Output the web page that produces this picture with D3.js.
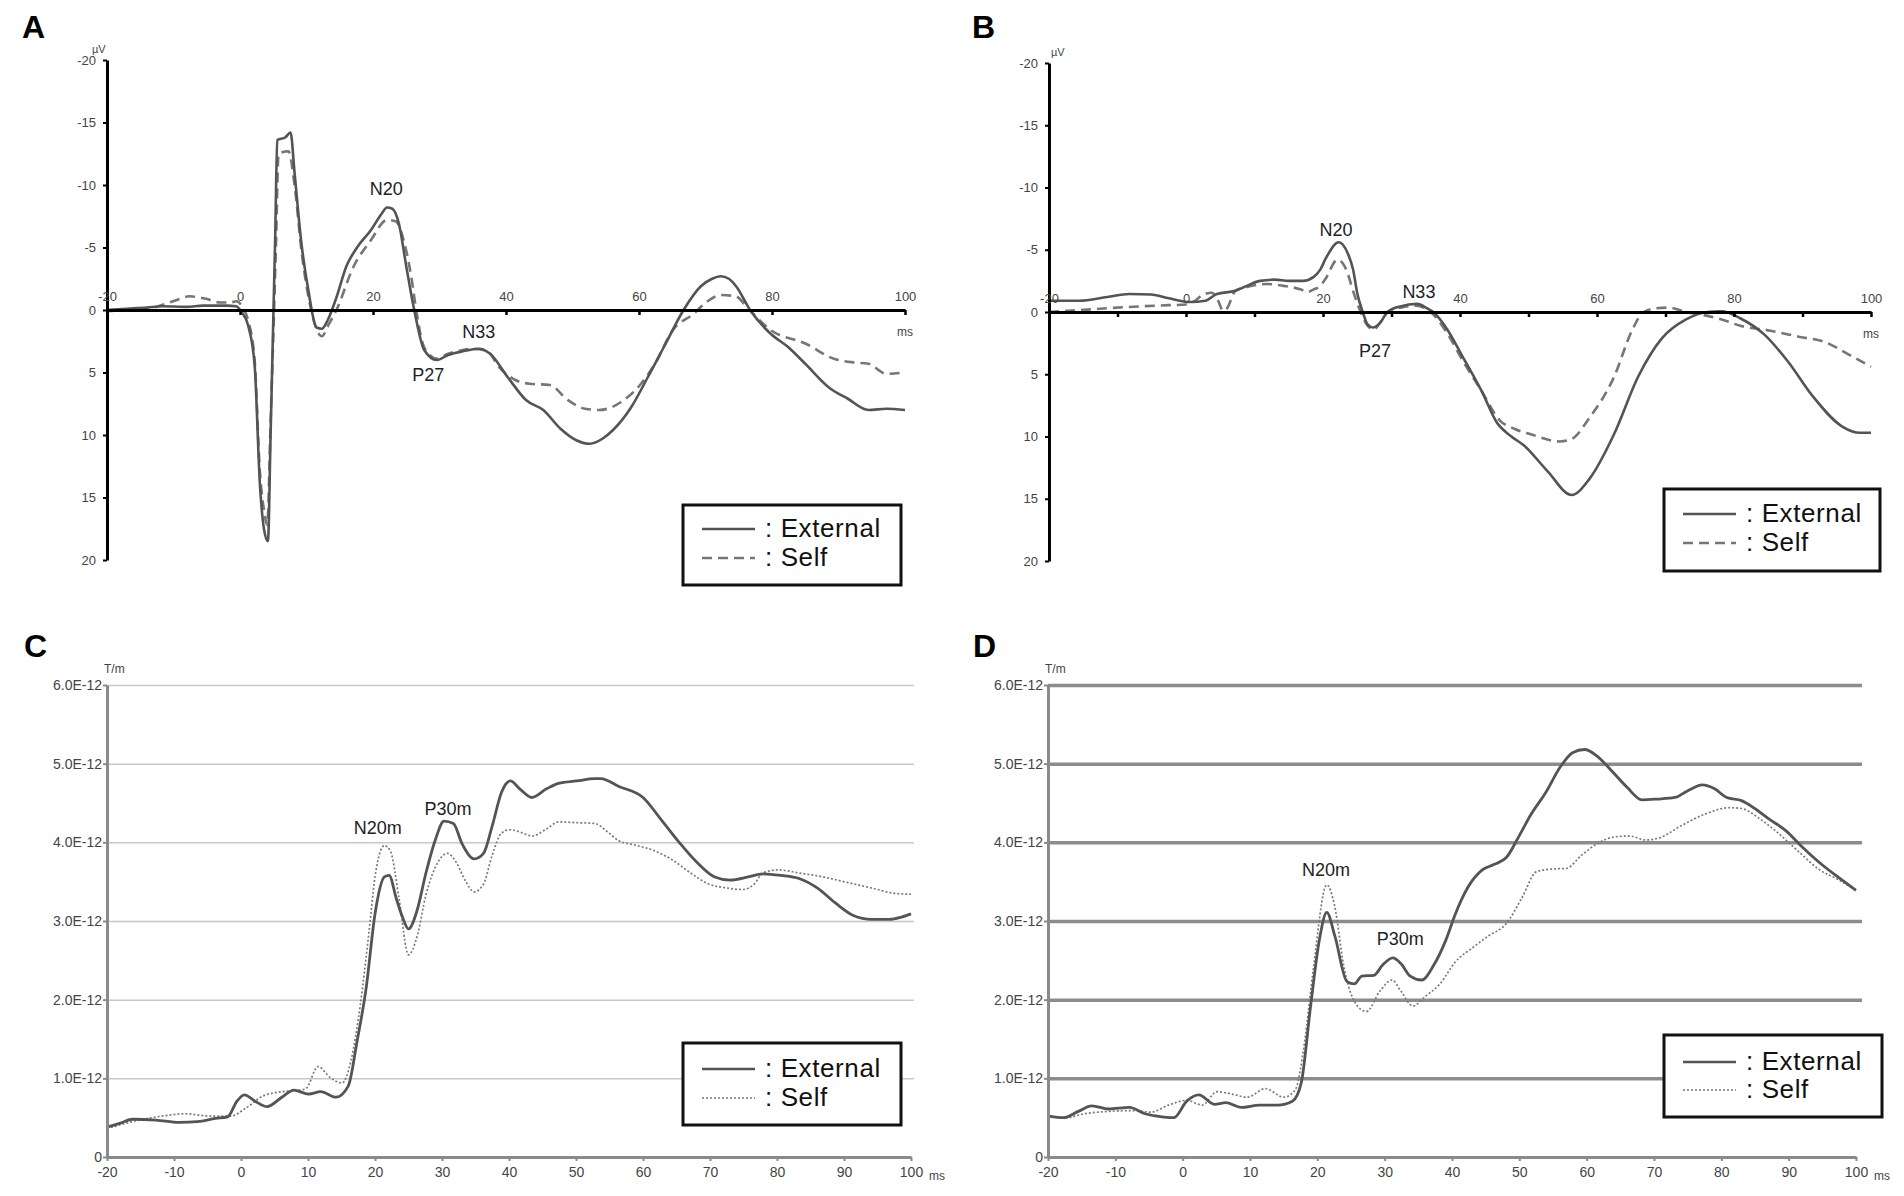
<!DOCTYPE html>
<html>
<head>
<meta charset="utf-8">
<script src="https://cdn.jsdelivr.net/npm/d3@7"></script>
<style>
body { margin: 0; background: #fff; }
text { font-family: "Liberation Sans", Arial, sans-serif; }
</style>
</head>
<body>
<svg id="chart" width="1904" height="1196"></svg>
<script>
// ---- data: [ms, value] pairs ----
const uvTicks = [-20, -15, -10, -5, 0, 5, 10, 15, 20];
const tmTicks = [0, 1, 2, 3, 4, 5, 6];          // x 1E-12 T/m
const msTicksA = [-20, 0, 20, 40, 60, 80, 100];
const msTicksB = [-20, -10, 0, 10, 20, 30, 40, 50, 60, 70, 80, 90, 100];
const msLabelsAB = [-20, 0, 20, 40, 60, 80, 100];
const msTicksCD = [-20, -10, 0, 10, 20, 30, 40, 50, 60, 70, 80, 90, 100];
const seriesNames = [": External", ": Self"];

const extA = [[-20, 0.0], [-17, -0.1], [-14, -0.2], [-11.7, -0.3], [-8, -0.25], [-5.6, -0.35], [-2, -0.35],
    [-0.6, -0.3], [0.3, 0.2], [1.2, 1.2], [2.2, 4.4], [3.0, 14], [3.6, 17.5], [4.2, 18.5], [4.6, 10],
    [5.3, -6], [5.6, -13.6], [6.8, -13.8], [7.6, -14.2], [8.2, -11], [9.2, -5.5], [10.3, -1.5], [11.5, 1.4],
    [12.3, 1.5], [13.2, 0.8], [14.5, -1], [16, -3.5], [17.6, -5], [19.7, -6.4], [21.3, -7.7], [22.1, -8.2],
    [22.9, -8.1], [23.9, -6.9], [25, -3.5], [26.2, 0], [27.7, 3.2], [29.6, 4.0], [31.3, 3.6], [33.5, 3.3],
    [36, 3.1], [37.6, 3.5], [40.3, 5.4], [43, 7.2], [45.6, 8.0], [48.2, 9.5], [50.5, 10.4], [52.6, 10.7],
    [54.5, 10.3], [56.1, 9.6], [58.8, 7.8], [61.3, 5.4], [64, 2.7], [66.7, 0], [69.3, -1.9], [71, -2.5],
    [72.3, -2.7], [73.5, -2.5], [74.6, -1.9], [76.7, 0], [79.8, 1.9], [82.5, 3.0], [85, 4.3], [88.8, 6.3],
    [91.4, 7.1], [94.5, 8.0], [97.2, 7.9], [100, 8.0]];
const selfA = [[-20, 0.1], [-17.5, 0], [-15.7, -0.1], [-13, -0.2], [-11.7, -0.4], [-9.5, -0.8], [-7.6, -1.1],
    [-6, -1.0], [-5.1, -0.9], [-3, -0.6], [-1.5, -0.6], [-0.5, -0.7], [0.3, -0.3], [1.2, 0.8], [2.2, 4],
    [3.0, 13], [3.6, 16], [4.1, 17.2], [4.6, 9], [5.4, -5], [5.8, -12.5], [7.3, -12.7], [8.2, -10],
    [9.3, -4.5], [10.5, -0.5], [11.5, 1.5], [12.3, 2.1], [13.3, 1.2], [14.5, 0], [17.1, -3.5], [19.7, -5.6],
    [22.1, -7.2], [23.4, -7.1], [24.7, -5.4], [25.8, -2.5], [26.5, 0], [27.7, 3.0], [29.6, 3.9], [31.3, 3.5],
    [33.5, 3.2], [35.2, 3.1], [37.2, 3.3], [39, 4.6], [41.4, 5.6], [43.5, 5.9], [46.6, 6.0], [49.3, 7.2],
    [51.9, 7.9], [54.0, 8.0], [57.2, 7.4], [60.3, 5.9], [62.4, 4.3], [65.1, 1.6], [68.2, 0.3], [70.3, -0.7],
    [72.4, -1.2], [74.5, -1.1], [76.6, 0], [79.8, 1.6], [85.1, 2.7], [89.3, 3.9], [92.4, 4.2], [94.5, 4.3],
    [97.2, 5.1], [100, 5.0]];

const extB = [[-20, -0.9], [-15.6, -0.9], [-11.5, -1.2], [-8.3, -1.45], [-5.1, -1.4], [-2.5, -1.1], [0.6, -0.8],
    [2.8, -0.9], [4.5, -1.45], [7.2, -1.7], [8.9, -2.1], [10.8, -2.5], [13, -2.6], [15, -2.5], [17.1, -2.5],
    [18.6, -2.8], [19.6, -3.4], [20.4, -4.3], [22.3, -5.6], [23.7, -4.6], [24.4, -3.4], [25, -1.5], [25.8, 0],
    [26.5, 1.0], [27.3, 1.25], [28.3, 0.9], [29.4, 0], [31.3, -0.45], [33.7, -0.65], [35.2, -0.3], [36.1, 0],
    [37.9, 1.2], [40.5, 3.7], [43.2, 6.4], [45.4, 8.9], [47.5, 10], [49.3, 10.7], [52.8, 12.8], [56.3, 14.7],
    [58.9, 13.4], [62.5, 9.8], [66, 5.2], [69.5, 2.1], [73, 0.6], [76.1, 0], [78.2, -0.06], [80.9, 0.5],
    [84.4, 1.8], [87.9, 4.0], [91.4, 6.7], [95.8, 9.2], [98.4, 9.7], [100, 9.7]];
const selfB = [[-20, 0], [-15.6, -0.15], [-11.5, -0.3], [-6.8, -0.45], [-2.5, -0.55], [0.1, -0.6], [1.3, -0.9],
    [2.5, -1.4], [3.8, -1.55], [4.7, -0.9], [5.4, -0.1], [6.0, -0.3], [7.2, -1.7], [8.9, -2.0], [11.8, -2.25],
    [14.2, -2.1], [16.8, -1.8], [17.7, -1.6], [18.6, -1.8], [19.6, -2.1], [20.4, -2.7], [22.1, -4.2],
    [23.4, -3.4], [24.5, -1.5], [25.5, 0], [26.5, 1.1], [27.4, 1.4], [28.4, 0.8], [29.5, 0], [31.8, -0.4],
    [33.5, -0.5], [35.7, 0], [37.9, 1.5], [40.5, 4.0], [43.2, 6.4], [45.8, 8.7], [48, 9.4], [50.2, 9.8],
    [54.6, 10.4], [56.3, 10.2], [58.9, 8.5], [62.5, 5.2], [65.1, 1.5], [66.8, 0], [68.6, -0.3], [70.4, -0.35],
    [73, 0], [75.6, 0.25], [78.2, 0.6], [80.9, 1.1], [85.3, 1.5], [89.6, 2.0], [93.2, 2.4], [96.7, 3.4],
    [100, 4.4]];

const extC = [[-20, 0.38], [-18, 0.43], [-16.2, 0.48], [-12.7, 0.47], [-9.2, 0.44], [-6.5, 0.45], [-3.8, 0.49],
    [-2.0, 0.51], [-0.6, 0.71], [0.5, 0.79], [2.1, 0.71], [3.9, 0.64], [6.1, 0.76], [7.9, 0.85], [10.1, 0.80],
    [11.9, 0.83], [14.2, 0.76], [16, 0.90], [17.3, 1.46], [18.7, 2.16], [20, 3.09], [21.4, 3.56], [22.1, 3.58],
    [23.2, 3.28], [24.1, 3.05], [25, 2.90], [26.3, 3.14], [27.6, 3.61], [29, 4.03], [30.3, 4.27], [31.7, 4.24],
    [33, 3.98], [34.8, 3.79], [36.2, 3.86], [37.5, 4.21], [38.9, 4.64], [40.2, 4.78], [41.6, 4.68], [43.4, 4.57],
    [45.6, 4.68], [47.4, 4.75], [50.1, 4.78], [52.8, 4.81], [53.7, 4.81], [56.4, 4.71], [60, 4.57], [62.7, 4.29],
    [65.4, 4.00], [68, 3.75], [70.7, 3.56], [73, 3.52], [75.7, 3.56], [77.9, 3.60], [80.6, 3.58], [83.3, 3.54],
    [86, 3.42], [88.7, 3.23], [91.4, 3.07], [94.1, 3.02], [96.8, 3.02], [98.6, 3.05], [100, 3.09]];
const selfC = [[-20, 0.36], [-16.2, 0.45], [-11.8, 0.52], [-8.3, 0.55], [-4.7, 0.52], [-1.5, 0.52], [0.7, 0.62],
    [3.4, 0.78], [6.1, 0.83], [8.8, 0.85], [9.7, 0.87], [11.5, 1.15], [13.3, 1.01], [15.1, 0.94], [16.4, 1.22],
    [17.8, 1.93], [19.1, 2.86], [20, 3.56], [21.4, 3.96], [22.3, 3.89], [23.6, 3.28], [25, 2.57], [26.3, 2.81],
    [27.6, 3.33], [29.4, 3.75], [30.8, 3.86], [32.1, 3.75], [33.5, 3.51], [34.8, 3.37], [36.2, 3.47],
    [37.5, 3.84], [38.9, 4.12], [40.2, 4.16], [42, 4.12], [43.4, 4.08], [45.6, 4.17], [47.4, 4.26], [50.1, 4.25],
    [52.8, 4.24], [54.6, 4.14], [56.4, 4.02], [59.1, 3.96], [61.8, 3.89], [64.5, 3.77], [67.1, 3.61],
    [69.8, 3.47], [72.5, 3.42], [74.8, 3.40], [76.6, 3.47], [77.9, 3.61], [80.2, 3.65], [83.3, 3.61],
    [86.9, 3.56], [90.5, 3.49], [94.1, 3.42], [97.7, 3.35], [100, 3.34]];

const extD = [[-19.8, 0.52], [-17.7, 0.50], [-15.5, 0.58], [-13.5, 0.65], [-11, 0.61], [-7.9, 0.63], [-5.6, 0.55],
    [-3.8, 0.52], [-1.3, 0.50], [0.6, 0.71], [2.4, 0.79], [4.7, 0.67], [6.4, 0.69], [8.7, 0.63], [11.4, 0.66],
    [14.1, 0.66], [16.3, 0.71], [17.6, 0.94], [19, 1.92], [20.3, 2.76], [21.4, 3.11], [22.6, 2.81], [24.4, 2.23],
    [25.5, 2.20], [26.6, 2.30], [28.4, 2.31], [29.7, 2.44], [31.2, 2.53], [32.4, 2.46], [33.8, 2.30],
    [35.5, 2.25], [37.3, 2.44], [39.1, 2.76], [40.5, 3.09], [42.3, 3.42], [44.5, 3.65], [46.3, 3.72],
    [48.1, 3.81], [49.9, 4.07], [51.7, 4.35], [53.9, 4.63], [56.1, 4.96], [57.9, 5.14], [59.7, 5.18],
    [61.5, 5.10], [63.7, 4.91], [66, 4.70], [68.2, 4.54], [70.5, 4.55], [73.1, 4.57], [74.9, 4.65],
    [77.2, 4.73], [79, 4.68], [80.8, 4.57], [83, 4.53], [84.8, 4.44], [87, 4.30], [89.7, 4.14], [91.9, 3.95],
    [94.6, 3.74], [97.3, 3.56], [100, 3.39]];
const selfD = [[-19.8, 0.51], [-17.3, 0.50], [-14.6, 0.55], [-11, 0.58], [-7.4, 0.59], [-4.7, 0.57], [-2.1, 0.66],
    [0.6, 0.72], [2.9, 0.66], [5.1, 0.83], [7.3, 0.80], [9.6, 0.76], [12.3, 0.87], [15, 0.76], [16.7, 0.85],
    [18.1, 1.46], [19.4, 2.39], [21.4, 3.46], [22.6, 3.18], [23.9, 2.44], [25.7, 1.95], [27.3, 1.85],
    [29.3, 2.11], [31.1, 2.25], [32.4, 2.11], [34.2, 1.92], [36, 2.04], [38.2, 2.20], [40.5, 2.48],
    [43.2, 2.67], [45.4, 2.81], [48.1, 2.97], [50.3, 3.28], [52.6, 3.63], [54.8, 3.66], [57, 3.67],
    [59.3, 3.84], [61.5, 3.98], [64.2, 4.07], [66.4, 4.08], [68.7, 4.03], [70.9, 4.06], [74, 4.21],
    [77.6, 4.36], [81.2, 4.44], [83, 4.43], [85.7, 4.30], [88.4, 4.12], [91.5, 3.88], [94.6, 3.65],
    [97.3, 3.53], [100, 3.39]];

// component labels: [text, ms, value at text baseline]
const peaksA = [["N20", 22.0, -9.2], ["P27", 28.3, 5.7], ["N33", 35.9, 2.2]];
const peaksB = [["N20", 21.9, -6.1], ["P27", 27.6, 3.6], ["N33", 34.0, -1.1]];
const peaksC = [["N20m", 20.4, 4.1], ["P30m", 30.9, 4.35]];
const peaksD = [["N20m", 21.3, 3.57], ["P30m", 32.3, 2.69]];

// ---- drawing ----
const svg = d3.select("#chart");
const extColor = "#545454";
const selfColor = "#767676";
const tickFont = "'Liberation Sans', Arial, sans-serif";

function drawLegend(box, selfDash, selfWidth) {
    let lg = svg.append("g");
    lg.append("rect")
        .attr("x", box.x).attr("y", box.y)
        .attr("width", box.w).attr("height", box.h)
        .attr("fill", "#fff").attr("stroke", "#111").attr("stroke-width", 3);
    let dashes = [null, selfDash];
    let widths = [2.6, selfWidth];
    let colors = [extColor, selfColor];
    seriesNames.forEach(function (name, i) {
        let ly = box.y + box.row0 + i * box.rowGap;
        lg.append("line")
            .attr("x1", box.x + 19).attr("x2", box.x + 72)
            .attr("y1", ly).attr("y2", ly)
            .attr("stroke", colors[i]).attr("stroke-width", widths[i])
            .attr("stroke-dasharray", dashes[i]);
        lg.append("text")
            .attr("x", box.x + 82).attr("y", ly + 8)
            .attr("font-family", "'Noto Sans CJK JP', 'Noto Sans', sans-serif")
            .attr("font-size", 26).attr("letter-spacing", 0.6).attr("fill", "#111")
            .text(name);
    });
}

function drawPeaks(peaks, x, y, size) {
    svg.append("g").selectAll("text")
        .data(peaks)
        .join("text")
        .attr("x", d => x(d[1]))
        .attr("y", d => y(d[2]))
        .attr("text-anchor", "middle")
        .attr("font-size", size)
        .attr("fill", "#222")
        .text(d => d[0]);
}

function drawErpPanel(cfg, ext, self, peaks) {
    let x = d3.scaleLinear().domain([-20, 100]).range([cfg.left, cfg.right]);
    let y = d3.scaleLinear().domain([-20, 20]).range([cfg.top, cfg.bottom]);

    svg.append("text")
        .attr("x", cfg.letterX).attr("y", 38)
        .attr("font-size", 32).attr("font-weight", "bold")
        .text(cfg.letter);

    let line = d3.line()
        .x(d => x(d[0]))
        .y(d => y(d[1]))
        .curve(d3.curveMonotoneX);

    svg.append("path")
        .datum(self)
        .attr("fill", "none")
        .attr("stroke", selfColor)
        .attr("stroke-width", 2.6)
        .attr("stroke-dasharray", "10,6")
        .attr("d", line);

    svg.append("path")
        .datum(ext)
        .attr("fill", "none")
        .attr("stroke", extColor)
        .attr("stroke-width", 2.6)
        .attr("stroke-linejoin", "round")
        .attr("d", line);

    // y axis
    svg.append("g")
        .attr("transform", "translate(" + x(-20) + ",0)")
        .call(d3.axisLeft(y).tickValues(uvTicks).tickSize(4).tickSizeOuter(0).tickFormat(d => String(d)))
        .attr("font-family", tickFont)
        .attr("font-size", 13)
        .call(a => a.select(".domain").attr("stroke", "#000").attr("stroke-width", 3))
        .call(a => a.selectAll(".tick line").attr("stroke", "#000").attr("stroke-width", 2))
        .call(a => a.selectAll(".tick text").attr("x", -11).attr("fill", "#444"));

    // x axis at 0 uV, labels above the line
    svg.append("g")
        .attr("transform", "translate(0," + y(0) + ")")
        .call(d3.axisBottom(x).tickValues(cfg.msTicks).tickSize(5).tickSizeOuter(0)
            .tickFormat(d => msLabelsAB.includes(d) ? String(d) : ""))
        .attr("font-family", tickFont)
        .attr("font-size", 13)
        .call(a => a.select(".domain").attr("stroke", "#000").attr("stroke-width", 3))
        .call(a => a.selectAll(".tick line").attr("stroke", "#000").attr("stroke-width", 2.5))
        .call(a => a.selectAll(".tick text").attr("y", -9).attr("dy", 0).attr("fill", "#444"));

    svg.append("text")
        .attr("x", cfg.uvX).attr("y", cfg.top - 7)
        .attr("font-size", 11).attr("fill", "#444")
        .text("\u00b5V");
    svg.append("text")
        .attr("x", x(100)).attr("y", y(0) + 26)
        .attr("text-anchor", "middle")
        .attr("font-size", 12).attr("fill", "#444")
        .text("ms");

    drawPeaks(peaks, x, y, 18);
    drawLegend(cfg.legend, "10,6", 2.6);
}

function drawMegPanel(cfg, ext, self, peaks) {
    let x = d3.scaleLinear().domain([-20, 100]).range([cfg.left, cfg.right]);
    let y = d3.scaleLinear().domain([0, 6]).range([cfg.bottom, cfg.top]);

    svg.append("text")
        .attr("x", cfg.letterX).attr("y", 657)
        .attr("font-size", 32).attr("font-weight", "bold")
        .text(cfg.letter);

    // horizontal grid
    svg.append("g")
        .attr("transform", "translate(" + cfg.left + ",0)")
        .call(d3.axisLeft(y).tickValues(tmTicks.slice(1)).tickSize(-(cfg.gridRight - cfg.left)).tickFormat(""))
        .call(a => a.select(".domain").remove())
        .call(a => a.selectAll(".tick line").attr("stroke", cfg.gridColor).attr("stroke-width", cfg.gridWidth));

    let line = d3.line()
        .x(d => x(d[0]))
        .y(d => y(d[1]))
        .curve(d3.curveMonotoneX);

    svg.append("path")
        .datum(self)
        .attr("fill", "none")
        .attr("stroke", "#7a7a7a")
        .attr("stroke-width", 1.7)
        .attr("stroke-dasharray", "2,2")
        .attr("d", line);

    svg.append("path")
        .datum(ext)
        .attr("fill", "none")
        .attr("stroke", extColor)
        .attr("stroke-width", 2.8)
        .attr("stroke-linejoin", "round")
        .attr("d", line);

    svg.append("g")
        .attr("transform", "translate(" + cfg.left + ",0)")
        .call(d3.axisLeft(y).tickValues(tmTicks).tickSize(4).tickSizeOuter(0)
            .tickFormat(d => d === 0 ? "0" : d.toFixed(1) + "E-12"))
        .attr("font-family", tickFont)
        .attr("font-size", 14)
        .call(a => a.select(".domain").attr("stroke", "#8a8a8a").attr("stroke-width", 3))
        .call(a => a.selectAll(".tick line").attr("stroke", "#8a8a8a").attr("stroke-width", 2))
        .call(a => a.selectAll(".tick text").attr("x", -5).attr("fill", "#444"));

    svg.append("g")
        .attr("transform", "translate(0," + y(0) + ")")
        .call(d3.axisBottom(x).tickValues(msTicksCD).tickSize(4).tickSizeOuter(0).tickFormat(d => String(d)))
        .attr("font-family", tickFont)
        .attr("font-size", 14)
        .call(a => a.select(".domain").attr("stroke", "#8a8a8a").attr("stroke-width", 3))
        .call(a => a.selectAll(".tick line").attr("stroke", "#8a8a8a").attr("stroke-width", 2))
        .call(a => a.selectAll(".tick text").attr("y", 10).attr("fill", "#444"));

    svg.append("text")
        .attr("x", cfg.left - 3).attr("y", cfg.top - 12)
        .attr("font-size", 12).attr("fill", "#444")
        .text("T/m");
    svg.append("text")
        .attr("x", x(100) + 18).attr("y", y(0) + 23)
        .attr("font-size", 12).attr("fill", "#444")
        .text("ms");

    drawPeaks(peaks, x, y, 18);
    drawLegend(cfg.legend, "2,2", 1.7);
}

drawErpPanel({letter: "A", letterX: 22, left: 107, right: 905, top: 60, bottom: 560, uvX: 92,
              msTicks: msTicksA, legend: {x: 683, y: 505, w: 218, h: 80, row0: 24, rowGap: 29}},
             extA, selfA, peaksA);
drawErpPanel({letter: "B", letterX: 972, left: 1049, right: 1871, top: 63, bottom: 561, uvX: 1051,
              msTicks: msTicksB, legend: {x: 1664, y: 489, w: 216, h: 82, row0: 25, rowGap: 29}},
             extB, selfB, peaksB);
drawMegPanel({letter: "C", letterX: 24, left: 107, right: 911, top: 685, bottom: 1157, gridRight: 914,
              gridColor: "#c8c8c8", gridWidth: 1.5,
              legend: {x: 683, y: 1043, w: 218, h: 82, row0: 26, rowGap: 29}},
             extC, selfC, peaksC);
drawMegPanel({letter: "D", letterX: 973, left: 1048, right: 1856, top: 685, bottom: 1157, gridRight: 1862,
              gridColor: "#8c8c8c", gridWidth: 3.5,
              legend: {x: 1664, y: 1035, w: 218, h: 82, row0: 27, rowGap: 28}},
             extD, selfD, peaksD);
</script>
</body>
</html>
